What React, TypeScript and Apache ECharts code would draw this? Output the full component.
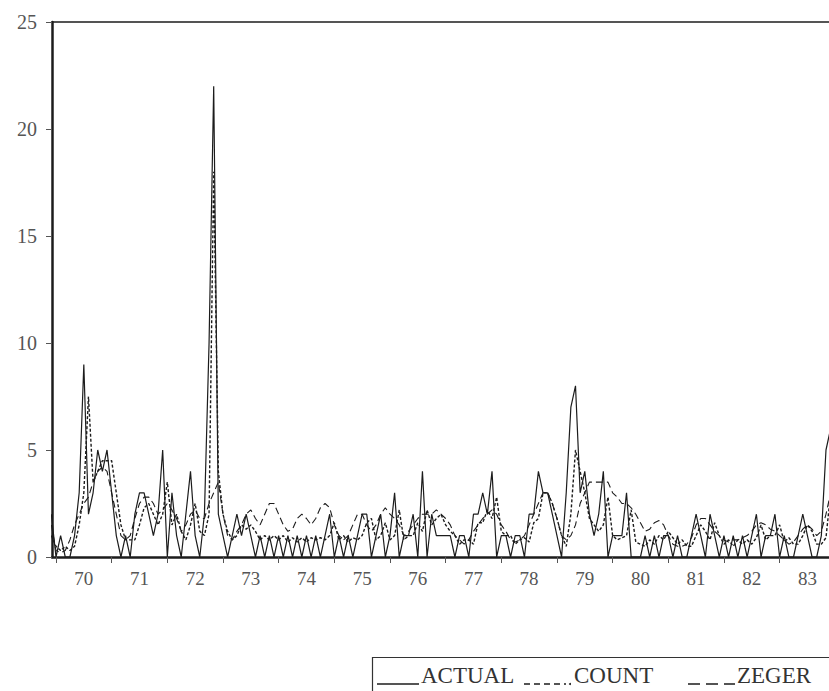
import React, { useEffect, useRef } from "react";
import * as echarts from "echarts";

// Monthly series, first value = Dec 1969 (month index -1), Jan 1970 = index 0
const startMonth = -1;
const yearLabels = ["70", "71", "72", "73", "74", "75", "76", "77", "78", "79", "80", "81", "82", "83"];
const yTicks = [0, 5, 10, 15, 20, 25];

const actual = [
  2,
  0, 1, 0, 0, 1, 3, 9, 2, 3, 5, 4, 5,
  3, 1, 0, 1, 0, 2, 3, 3, 2, 1, 2, 5,
  0, 3, 1, 0, 2, 4, 1, 0, 2, 10, 22, 2,
  1, 0, 1, 2, 1, 2, 1, 0, 1, 0, 1, 0,
  1, 0, 1, 0, 1, 0, 1, 0, 1, 0, 1, 2,
  0, 1, 0, 1, 0, 1, 2, 2, 0, 1, 2, 0,
  1, 3, 0, 1, 1, 2, 0, 4, 0, 2, 1, 1,
  1, 1, 0, 1, 1, 0, 2, 2, 3, 2, 4, 0,
  1, 1, 0, 1, 1, 0, 2, 2, 4, 3, 3, 2,
  1, 0, 3, 7, 8, 3, 4, 2, 1, 2, 4, 0,
  1, 1, 1, 3, 0, 0, 0, 1, 0, 1, 0, 1,
  1, 0, 1, 0, 0, 1, 2, 1, 0, 2, 1, 0,
  1, 0, 1, 0, 1, 0, 1, 2, 0, 1, 1, 2,
  0, 1, 0, 0, 1, 2, 1, 0, 0, 1, 5, 6,
];

const count = [
  1.0,
  0.5, 0.3, 0.5, 0.3, 0.5, 1.5, 3.0, 7.5, 3.5, 4.0, 4.5, 4.5,
  4.5, 3.0, 1.5, 0.8, 0.8, 0.8, 1.5, 2.3, 2.5, 2.0, 1.5, 2.0,
  3.5, 1.5, 2.0, 1.2, 0.8, 1.5, 2.5, 1.2, 1.0, 2.0, 18.0, 4.0,
  2.0, 1.2, 0.8, 1.0, 1.5, 1.3, 1.5, 1.2, 0.8, 1.0, 0.8, 1.0,
  0.8, 1.0, 0.7, 0.9, 0.7, 0.9, 0.7, 0.9, 0.8, 0.9, 0.8, 1.0,
  1.6, 0.8, 1.0, 0.7, 0.9, 0.8, 1.0, 1.6, 1.8, 0.8, 1.0, 1.6,
  0.8, 1.0, 2.2, 0.8, 1.0, 1.0, 1.6, 1.2, 2.2, 1.5, 1.8, 2.0,
  1.5, 1.2, 1.0, 0.6, 0.8, 0.8, 0.6, 1.6, 1.6, 2.2, 1.8, 2.8,
  1.2, 1.0, 1.0, 0.6, 0.8, 0.9, 0.7, 1.6, 1.8, 3.0, 3.0, 2.5,
  1.8, 1.0, 0.5, 2.0, 5.0, 4.0, 3.0, 1.8, 1.5, 1.2, 1.5, 2.8,
  1.0, 0.8, 0.9, 1.0, 2.2, 0.7, 0.6, 0.5, 0.8, 0.6, 1.0, 0.8,
  1.2, 0.9, 0.6, 0.8, 0.5, 0.5, 1.0, 1.5, 1.2, 0.8, 1.6, 1.0,
  0.6, 0.8, 0.5, 0.8, 0.6, 0.8, 0.6, 0.9, 1.5, 0.8, 1.0, 1.0,
  1.5, 0.7, 0.9, 0.6, 0.6, 1.0, 1.5, 1.2, 0.6, 0.6, 0.9, 3.0,
];

const zeger = [
  1.5,
  0.3, 0.2, 0.3, 0.8, 1.5, 2.0, 2.5, 2.8, 3.5, 4.0, 4.2, 4.0,
  3.0, 2.0, 1.0, 0.8, 1.0, 1.8, 2.5, 2.8, 2.8, 2.5, 2.0, 2.2,
  2.5, 2.2, 1.8, 1.2, 1.5, 2.0, 2.2, 1.8, 1.8, 2.5, 3.0, 3.5,
  2.0, 1.0, 0.8, 1.2, 1.5, 2.0, 2.2, 1.8, 1.5, 2.0, 2.5, 2.5,
  2.0, 1.5, 1.2, 1.3, 1.8, 2.0, 1.8, 1.5, 1.8, 2.3, 2.5, 2.3,
  1.5, 1.0, 0.8, 1.0, 1.5, 2.0, 2.0, 1.5, 1.2, 1.5, 2.0, 2.3,
  2.0, 1.8, 1.5, 1.0, 1.2, 1.5, 1.8, 2.0, 2.0, 2.0, 2.2, 2.0,
  1.8, 1.5, 1.0, 0.8, 0.6, 0.8, 1.2, 1.5, 1.8, 2.0, 2.2, 2.0,
  1.5, 1.2, 0.8, 0.7, 0.8, 1.0, 1.5, 2.0, 2.5, 3.0, 3.0, 2.5,
  1.8, 1.0, 0.8, 1.0, 1.5, 2.5, 3.0, 3.5, 3.5, 3.5, 3.5, 3.5,
  3.0, 2.8, 2.5, 2.5, 2.3, 2.0, 1.6, 1.2, 1.3, 1.6, 1.7, 1.5,
  1.0, 0.6, 0.5, 0.5, 0.6, 0.9, 1.5, 1.8, 1.8, 1.5, 1.2, 1.0,
  0.8, 0.7, 0.8, 0.8, 0.9, 1.0, 1.2, 1.5, 1.6, 1.5, 1.3, 1.2,
  1.0, 0.8, 0.6, 0.7, 1.0, 1.3, 1.5, 1.3, 1.0, 1.2, 2.0, 3.0,
];

const seriesNames = ["ACTUAL", "COUNT", "ZEGER"];

const toPoints = (arr: number[]) => arr.map((v, i) => [i + startMonth, v]);

const FONT = "Liberation Serif";
const INK = "#1c1c1c";
const LEG_FONT = `23px "${FONT}"`;

export default function App() {
  const ref = useRef<HTMLDivElement>(null);
  useEffect(() => {
    if (!ref.current) return;
    const chart = echarts.init(ref.current, null, { renderer: "svg" });
    const tickVals = yearLabels.map((_, i) => i * 12);
    const labelVals = yearLabels.map((_, i) => i * 12 + 6);
    const xMin = -0.86;
    const xMax = 166.65;
    chart.setOption({
      animation: false,
      backgroundColor: "#ffffff",
      grid: { left: 52, right: -2, top: 22, bottom: 134, show: false },
      xAxis: [
        {
          type: "value",
          position: "bottom",
          min: xMin,
          max: xMax,
          axisLine: { show: true, onZero: false, lineStyle: { color: INK, width: 2.5 } },
          axisTick: { show: true, customValues: tickVals, length: 6, lineStyle: { color: "#555", width: 1 } },
          axisLabel: {
            show: true,
            customValues: labelVals,
            margin: 12,
            fontFamily: FONT,
            fontSize: 19,
            color: "#555",
            formatter: (v: number) => yearLabels[Math.round((v - 6) / 12)] ?? "",
          },
          splitLine: { show: false },
        },
        {
          type: "value",
          position: "top",
          min: xMin,
          max: xMax,
          axisLine: { show: true, onZero: false, lineStyle: { color: INK, width: 1.6 } },
          axisTick: { show: false },
          axisLabel: { show: false },
          splitLine: { show: false },
        },
      ],
      yAxis: {
        type: "value",
        min: 0,
        max: 25,
        interval: 5,
        axisLine: { show: true, onZero: false, lineStyle: { color: INK, width: 2.5 } },
        axisTick: { show: true, length: 6, lineStyle: { color: "#555", width: 1 } },
        axisLabel: {
          margin: 15,
          fontFamily: FONT,
          fontSize: 20,
          color: "#555",
          formatter: (v: number) => (yTicks.includes(v) ? String(v) : ""),
        },
        splitLine: { show: false },
      },
      series: [
        {
          name: seriesNames[0],
          type: "line",
          data: toPoints(actual),
          showSymbol: false,
          symbol: "none",
          lineStyle: { color: INK, width: 1.2, type: "solid" },
          z: 3,
        },
        {
          name: seriesNames[1],
          type: "line",
          data: toPoints(count),
          showSymbol: false,
          symbol: "none",
          lineStyle: { color: INK, width: 1.4, type: [3, 2] },
          z: 4,
        },
        {
          name: seriesNames[2],
          type: "line",
          data: toPoints(zeger),
          showSymbol: false,
          symbol: "none",
          lineStyle: { color: INK, width: 1.1, type: [7, 4] },
          z: 2,
        },
      ],
      graphic: [
        {
          type: "polyline",
          shape: { points: [[372.5, 700], [372.5, 657.5], [840, 657.5]] },
          style: { stroke: "#333", lineWidth: 1.2, fill: null },
        },
        {
          type: "line",
          shape: { x1: 377, y1: 684, x2: 419, y2: 684 },
          style: { stroke: INK, lineWidth: 1.3 },
        },
        {
          type: "text",
          x: 421,
          y: 687,
          style: { text: seriesNames[0], font: LEG_FONT, fill: "#333", textVerticalAlign: "bottom" },
        },
        {
          type: "line",
          shape: { x1: 524, y1: 684, x2: 566, y2: 684 },
          style: { stroke: INK, lineWidth: 1.3, lineDash: [6, 4] },
        },
        {
          type: "circle",
          shape: { cx: 570, cy: 684, r: 1 },
          style: { fill: INK },
        },
        {
          type: "text",
          x: 574,
          y: 687,
          style: { text: seriesNames[1], font: LEG_FONT, fill: "#333", textVerticalAlign: "bottom" },
        },
        {
          type: "line",
          shape: { x1: 688, y1: 684, x2: 735, y2: 684 },
          style: { stroke: INK, lineWidth: 1.3, lineDash: [12, 6] },
        },
        {
          type: "text",
          x: 737,
          y: 687,
          style: { text: seriesNames[2], font: LEG_FONT, fill: "#333", textVerticalAlign: "bottom" },
        },
      ],
    });
    return () => chart.dispose();
  }, []);
  return (
    <div
      ref={ref}
      style={{ position: "absolute", left: 0, top: 0, width: 829, height: 691, background: "#fff" }}
    />
  );
}
